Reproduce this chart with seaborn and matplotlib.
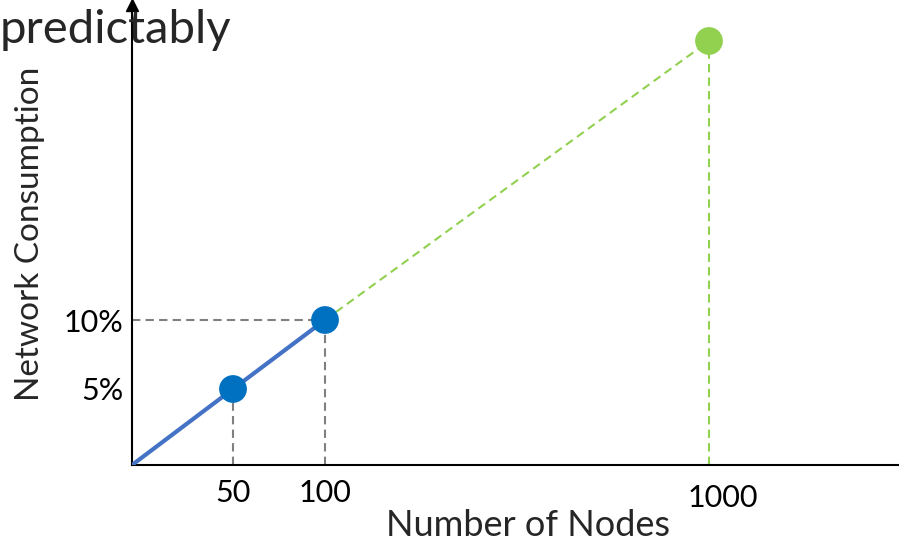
import numpy as np
import matplotlib
matplotlib.use("Agg")
import matplotlib.pyplot as plt
import matplotlib.transforms as mtransforms
import seaborn as sns

# measured nodes / network consumption (%)
nodes = [0, 50, 100]
consumption = [0, 5, 10]
marked_nodes = [50, 100]
marked_consumption = [5, 10]

# projected point
proj_nodes = [100, 1000]
proj_consumption = [10, 100]

x_ticks = [50, 100, 1000]
x_labels = ["50", "100", "1000"]
y_ticks = [5, 10]
y_labels = ["5%", "10%"]

# schematic (not to scale) axes: piecewise mapping of values to screen space
x_knots = [0, 50, 100, 1000, 1200]
x_screen = [0, 101, 193, 577, 767]
y_knots = [0, 5, 10, 100, 110]
y_screen = [0, 76, 145, 424, 460]


def fwd_x(v):
    return np.interp(v, x_knots, x_screen)


def inv_x(v):
    return np.interp(v, x_screen, x_knots)


def fwd_y(v):
    return np.interp(v, y_knots, y_screen)


def inv_y(v):
    return np.interp(v, y_screen, y_knots)


sns.set_style("white")
plt.rcParams['font.family'] = ['Lato', 'DejaVu Sans']

fig = plt.figure(figsize=(8.99, 5.45), dpi=100)
ax = fig.add_axes([132 / 899, 80 / 545, 767 / 899, 460 / 545])
ax.set_xscale("function", functions=(fwd_x, inv_x))
ax.set_yscale("function", functions=(fwd_y, inv_y))

blue_line = "#4472C4"
blue_dot = "#0070C0"
green = "#92D050"
grey = "#808080"

# guide lines
ax.hlines(proj_consumption[0], 0, proj_nodes[0], colors=grey, linestyles=(0, (4, 2.5)), lw=1.5, zorder=1)
ax.vlines(marked_nodes, 0, marked_consumption, colors=grey, linestyles=(0, (4, 2.5)), lw=1.5, zorder=1)
ax.vlines(proj_nodes[1], 0, proj_consumption[1], colors=green, linestyles=(0, (4, 2.5)), lw=1.5, zorder=1)

# lines
sns.lineplot(x=proj_nodes, y=proj_consumption, color=green, lw=1.5, linestyle=(0, (4, 2.5)), ax=ax, zorder=2)
sns.lineplot(x=nodes, y=consumption, color=blue_line, lw=3, ax=ax, zorder=3)

# points
sns.scatterplot(x=marked_nodes, y=marked_consumption, s=400, color=blue_dot, edgecolor="none", ax=ax, zorder=4)
sns.scatterplot(x=proj_nodes[1:], y=proj_consumption[1:], s=400, color=green, edgecolor="none", ax=ax, zorder=4)

ax.set_xlim(0, 1200)
ax.set_ylim(0, 110)

for side in ["top", "right"]:
    ax.spines[side].set_visible(False)
for side in ["left", "bottom"]:
    ax.spines[side].set_color("black")
    ax.spines[side].set_linewidth(1.5)

# arrow head on the y axis
ax.plot(0, 1, marker="^", color="black", markersize=9, transform=ax.transAxes, clip_on=False)

ax.set_xticks(x_ticks, labels=x_labels)
ax.set_yticks(y_ticks, labels=y_labels)
ax.tick_params(axis="both", length=0, labelsize=22, colors="black")
ax.tick_params(axis="x", pad=10)
ax.tick_params(axis="y", pad=6)
ax.minorticks_off()

# the 1000 label sits a bit lower and to the right
lbl = ax.get_xticklabels()[2]
lbl.set_transform(lbl.get_transform() + mtransforms.ScaledTranslation(14 / 100, -5 / 100, fig.dpi_scale_trans))

ax.set_xlabel("Number of Nodes", fontsize=26, va="center")
ax.xaxis.set_label_coords((528 - 132) / 767, (465 - 525) / 460)
ax.set_ylabel("Network Consumption", fontsize=24, va="center")
ax.yaxis.set_label_coords((30 - 132) / 767, (465 - 234) / 460)

fig.text(0, 1 - 43 / 545, "predictably", fontsize=34, va="baseline", ha="left")

fig.savefig("out.png", dpi=100)
